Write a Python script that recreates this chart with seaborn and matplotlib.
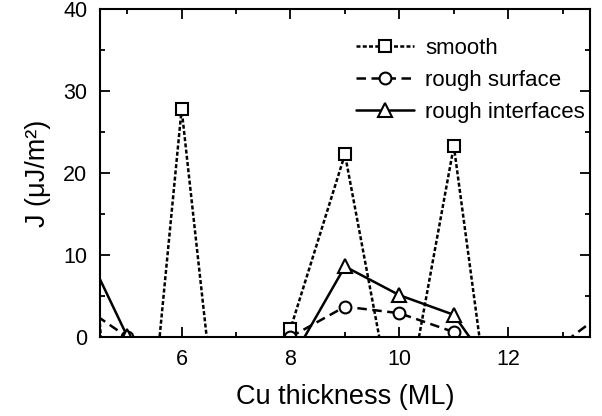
import numpy as np
import pandas as pd
import matplotlib
matplotlib.use("Agg")
import matplotlib.pyplot as plt
import seaborn as sns
from matplotlib.ticker import MultipleLocator

# Cu thickness (ML); values outside the 0..40 window are clipped by the axes
thickness = [4, 5, 6, 7, 8, 9, 10, 11, 12, 13, 14]
smooth = [44.0, -41.0, 27.8, -32.6, 1.0, 22.3, -13.1, 23.3, -26.3, -30.0, -30.0]
rough_surface = [4.6, 0.0, -3.0, -3.0, 0.0, 3.7, 2.9, 0.6, -5.0, -0.8, 4.2]
rough_interfaces = [14.0, 0.1, -5.0, -5.0, -3.0, 8.6, 5.1, 2.7, -6.7, -8.0, -8.0]

series_names = ["smooth", "rough surface", "rough interfaces"]

df = pd.DataFrame({
    "thickness": thickness * 3,
    "J": smooth + rough_surface + rough_interfaces,
    "case": np.repeat(series_names, len(thickness)),
})

sns.set_style("ticks")
plt.rcParams["font.family"] = ["Liberation Sans", "DejaVu Sans"]
plt.rcParams["text.color"] = "black"
plt.rcParams["axes.labelcolor"] = "black"

fig = plt.figure(figsize=(6.02, 4.16), dpi=100)
ax = fig.add_axes([0.166, 0.19, 0.814, 0.788])

styles = {
    "smooth": dict(marker="s", dashes=(1.6, 0.9), ms=8.5),
    "rough surface": dict(marker="o", dashes=(3.8, 2.2), ms=8.5),
    "rough interfaces": dict(marker="^", dashes=None, ms=9.5),
}

for name in series_names:
    st = styles[name]
    sub = df[df["case"] == name]
    kw = dict(color="black", lw=1.8, marker=st["marker"], ms=st["ms"],
              mfc="white", mec="black", mew=1.5, label=name)
    if st["dashes"] is not None:
        kw["dashes"] = st["dashes"]
    sns.lineplot(data=sub, x="thickness", y="J", ax=ax, **kw)

ax.set_xlim(4.5, 13.5)
ax.set_ylim(0, 40)
ax.xaxis.set_major_locator(MultipleLocator(2))
ax.xaxis.set_minor_locator(MultipleLocator(1))
ax.yaxis.set_major_locator(MultipleLocator(10))
ax.yaxis.set_minor_locator(MultipleLocator(5))
ax.tick_params(which="both", direction="in", top=True, right=True,
               width=1.3, labelsize=15.5, colors="black")
ax.tick_params(which="major", length=7, pad=9)
ax.tick_params(which="minor", length=3.5)
for sp in ax.spines.values():
    sp.set_linewidth(1.5)
    sp.set_color("black")

ax.set_xlabel("Cu thickness (ML)", fontsize=19.5, labelpad=10)
ax.set_ylabel("J (μJ/m²)", fontsize=19.5, labelpad=9)

ax.legend(loc="upper right", bbox_to_anchor=(0.99, 0.912), frameon=False,
          fontsize=16, handlelength=2.6, handletextpad=0.5,
          labelspacing=0.5, borderaxespad=0, borderpad=0, numpoints=1)

fig.savefig("out.png", dpi=100)
